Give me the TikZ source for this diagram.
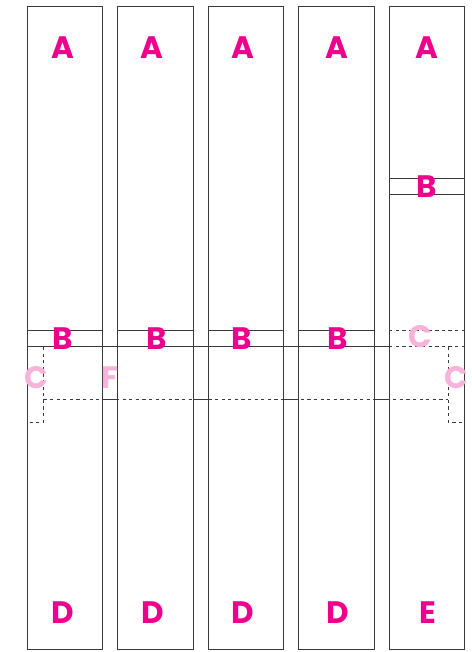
\documentclass[tikz,border=0pt]{standalone}
\usepackage{fontspec}
\usepackage{xcolor}
\usepackage{tikz}
\usetikzlibrary{positioning,calc}
\definecolor{hot}{HTML}{EC008C}
\definecolor{soft}{HTML}{F9B3DA}
\definecolor{rulegray}{HTML}{3A3A3A}
\newfontfamily\labelfont{Poppins}

\begin{document}
\begin{tikzpicture}[
  x=1pt, y=1pt,
  col/.style={draw=rulegray, line width=1pt, minimum width=75.5pt, minimum height=642.3pt, inner sep=0pt, outer sep=0pt},
  lbl/.style={font=\labelfont\bfseries\fontsize{31}{31}\selectfont, text=hot, inner sep=0pt},
  ghost/.style={lbl, text=soft},
  rule/.style={draw=rulegray, line width=1pt},
  cut/.style={rule, dash pattern=on 3.3pt off 3.3pt}
]
\useasboundingbox (0,0) rectangle (471,652);
\node[col, anchor=south west] (c1) at (27,2.7) {};
\node[col, right=15pt of c1] (c2) {};
\node[col, right=15pt of c2] (c3) {};
\node[col, right=15pt of c3] (c4) {};
\node[col, right=15pt of c4] (c5) {};
% levels
\coordinate (yB) at (0,321.3);
\coordinate (yS) at (0,305);
\coordinate (yF) at (0,252.7);
\coordinate (yC) at (0,229.7);
\coordinate (yBt) at (0,473);
\coordinate (yBb) at (0,457);
\coordinate (xL) at (43.3,0);
\coordinate (xR) at (448.3,0);
% lines
\foreach \i in {1,...,4}
  \draw[rule] (c\i.west |- yB) -- (c\i.east |- yB);
\draw[cut] (c5.west |- yB) -- (c5.east |- yB);
\draw[rule] (c1.west |- yS) -- (c5.west |- yS);
\draw[cut] (c5.west |- yS) -- (c5.east |- yS);
\draw[rule] (c5.west |- yBt) -- (c5.east |- yBt);
\draw[rule] (c5.west |- yBb) -- (c5.east |- yBb);
\draw[cut] (xL |- yF) -- (xR |- yF);
\foreach \i/\j in {1/2,2/3,3/4,4/5}
  \draw[rule] (c\i.east |- yF) -- (c\j.west |- yF);
\draw[cut] (xL |- yS) -- (xL |- yC) -- (c1.west |- yC);
\draw[cut] (xR |- yS) -- (xR |- yC) -- (c5.east |- yC);
% labels
\foreach \i/\dx in {1/-1.5,2/-3,3/-2.5,4/0.5,5/0}
  \node[lbl] (a\i) at ($(c\i.north)+(\dx,-41)$) {A};
\foreach \i/\dx in {1/-1.5,2/-2,3/-2.5,4/1.5}
  \node[lbl] (d\i) at ($(c\i.south)+(\dx,37)$) {D};
\node[lbl] (e) at ($(c5.south)+(1,37)$) {E};
\node[lbl] (b1) at (63,313) {B};
\node[lbl] (b2) at (156.5,313) {B};
\node[lbl] (b3) at (241.7,313) {B};
\node[lbl] (b4) at (337.7,313) {B};
\node[lbl] (b5) at (426.7,465.3) {B};
\node[ghost] (ctop) at (420,315.3) {C};
\node[ghost] (cleft) at (36.5,274) {C};
\node[ghost] (f) at (109.5,274) {F};
\node[ghost] (cright) at (456.5,274) {C};
\end{tikzpicture}
\end{document}
